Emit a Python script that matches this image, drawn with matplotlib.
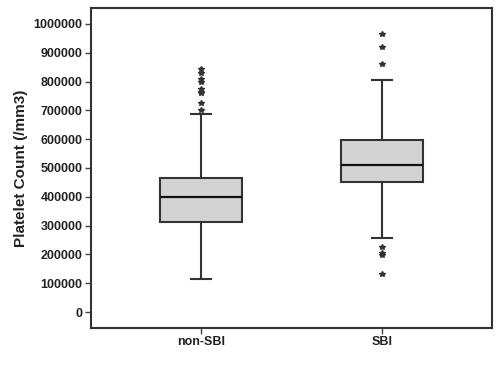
import matplotlib
matplotlib.use("Agg")
import matplotlib.pyplot as plt

categories = ["non-SBI", "SBI"]
q1 = [312500, 452000]
median = [399000, 511000]
q3 = [464000, 597000]
whisker_low = [115600, 256000]
whisker_high = [686000, 805500]
outliers = [
    [842700, 831000, 808000, 800000, 773000, 765000, 759000, 727000, 701000],
    [966000, 919000, 860000, 227000, 204000, 198000, 132000],
]
yticks = [0, 100000, 200000, 300000, 400000, 500000, 600000, 700000, 800000, 900000, 1000000]

plt.rcParams['font.family'] = ['Liberation Sans', 'DejaVu Sans']

fig = plt.figure(figsize=(5.0, 3.76), dpi=100)
ax = fig.add_axes([0.182, 0.1277, 0.802, 0.851])

stats = []
for i, c in enumerate(categories):
    stats.append(dict(label=c, q1=q1[i], med=median[i], q3=q3[i],
                      whislo=whisker_low[i], whishi=whisker_high[i], fliers=outliers[i]))

edge = "#333333"
ax.bxp(stats, positions=[1, 2], widths=0.45, patch_artist=True, capwidths=0.11,
       boxprops=dict(facecolor="#d3d3d3", edgecolor=edge, linewidth=1.5),
       medianprops=dict(color="#111111", linewidth=1.6),
       whiskerprops=dict(color=edge, linewidth=1.5),
       capprops=dict(color=edge, linewidth=1.5),
       flierprops=dict(marker="*", markersize=4.2, markerfacecolor="#333333",
                       markeredgecolor="#333333", linestyle="none"))

ax.set_xlim(0.394, 2.606)
ax.set_ylim(-55500, 1055500)
ax.set_yticks(yticks)
ax.set_yticklabels([str(v) for v in yticks], fontsize=9, fontweight="bold", color="#222222")
ax.set_xticks([1, 2])
ax.set_xticklabels(categories, fontsize=9, fontweight="bold", color="#222222")
ax.set_ylabel("Platelet Count (/mm3)", fontsize=11, fontweight="bold", color="#222222", labelpad=4)
ax.tick_params(axis="both", length=4, width=1, color="#444444", pad=2)
for s in ax.spines.values():
    s.set_linewidth(1.5)
    s.set_color("#333333")

fig.savefig("out.png", dpi=100)
